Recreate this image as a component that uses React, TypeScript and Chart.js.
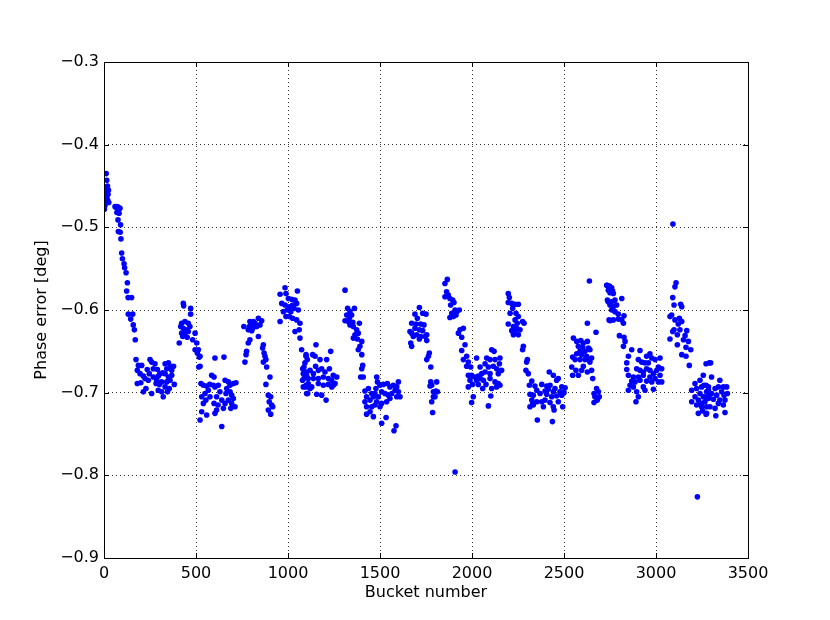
import React, { useEffect, useRef } from "react";
import { Chart, registerables } from "chart.js";

Chart.register(...registerables);

// [bucket number, phase error in deg]
const startRamp: number[][] = [
  [0,-0.472],[2,-0.478],[3,-0.466],[5,-0.474],[6,-0.458],[8,-0.468],[9,-0.46],[11,-0.455],[12,-0.435],[13,-0.47],[15,-0.443],[16,-0.462],[17,-0.458],[19,-0.45],[20,-0.467],[22,-0.46],[24,-0.455],[26,-0.47],
  [60,-0.475],[68,-0.476],[72,-0.475],[80,-0.476],[87,-0.477],[70,-0.482],[82,-0.483],[76,-0.491],[90,-0.497],[78,-0.505],[88,-0.506],[92,-0.514],
  [96,-0.531],[100,-0.538],[109,-0.544],[112,-0.549],[120,-0.555],[127,-0.567],[123,-0.577],[131,-0.585],[150,-0.585],
  [132,-0.605],[156,-0.605],[145,-0.611],[159,-0.618],[165,-0.624],[170,-0.636],
];
const block1: number[][] = [
  [174,-0.66],[187,-0.667],[205,-0.667],[181,-0.673],[196,-0.677],[214,-0.68],[181,-0.689],[223,-0.683],[228,-0.695],[214,-0.699],
  [250,-0.66],[259,-0.663],[277,-0.665],[268,-0.671],[246,-0.677],[241,-0.685],[268,-0.681],[286,-0.685],[295,-0.68],[304,-0.677],
  [319,-0.676],[313,-0.687],[283,-0.689],[259,-0.701],[295,-0.697],[313,-0.699],[322,-0.705],[301,-0.69],[332,-0.665],[350,-0.664],
  [362,-0.668],[341,-0.671],[332,-0.677],[350,-0.681],[368,-0.679],[341,-0.687],[332,-0.693],[355,-0.695],[359,-0.685],[368,-0.673],
  [378,-0.668],[382,-0.69],[200,-0.688],[235,-0.672],[290,-0.672],[345,-0.699],
];
const rise2: number[][] = [
  [431,-0.592],[433,-0.595],[471,-0.598],[471,-0.605],[422,-0.616],[440,-0.614],[458,-0.616],[417,-0.62],[431,-0.622],[449,-0.624],
  [440,-0.628],[458,-0.626],[467,-0.62],[422,-0.628],[409,-0.64],[495,-0.628],[482,-0.636],[504,-0.64],[495,-0.648],[513,-0.648],
  [507,-0.652],[518,-0.657],[515,-0.669],[428,-0.632],[452,-0.633],
];
const block2: number[][] = [
  [522,-0.656],[522,-0.668],[527,-0.689],[540,-0.691],[558,-0.692],[567,-0.697],[549,-0.701],[531,-0.705],[576,-0.705],[554,-0.709],
  [594,-0.691],[603,-0.693],[585,-0.679],[598,-0.681],[603,-0.658],[652,-0.657],[621,-0.691],[630,-0.699],[612,-0.705],[640,-0.709],
  [658,-0.713],[598,-0.713],[531,-0.723],[558,-0.727],[603,-0.725],[612,-0.721],[649,-0.719],[640,-0.741],[658,-0.685],[676,-0.687],
  [685,-0.691],[703,-0.689],[717,-0.688],[667,-0.695],[685,-0.699],[694,-0.703],[703,-0.707],[676,-0.709],[694,-0.713],[712,-0.717],
  [689,-0.719],[663,-0.701],[540,-0.713],[522,-0.733],[575,-0.69],[620,-0.715],
];
const rise3: number[][] = [
  [793,-0.614],[812,-0.614],[803,-0.618],[821,-0.616],[790,-0.62],[808,-0.622],[830,-0.62],[784,-0.624],[803,-0.625],[839,-0.61],
  [857,-0.613],[848,-0.618],[839,-0.632],[793,-0.636],[784,-0.64],[775,-0.65],[772,-0.654],[766,-0.663],[866,-0.642],[862,-0.646],
  [870,-0.652],[875,-0.656],[866,-0.663],[880,-0.66],[884,-0.669],[902,-0.681],[880,-0.69],[893,-0.703],[906,-0.705],[898,-0.711],
  [911,-0.715],[893,-0.721],[906,-0.726],[917,-0.717],[760,-0.62],
];
const rise4: number[][] = [
  [984,-0.573],[957,-0.581],[989,-0.58],[1051,-0.577],[1002,-0.586],[1020,-0.587],[1038,-0.588],[966,-0.592],[984,-0.594],[1007,-0.596],
  [1025,-0.594],[1047,-0.592],[975,-0.602],[996,-0.6],[1015,-0.602],[1033,-0.598],[1056,-0.6],[1007,-0.608],[1025,-0.61],[1047,-0.612],
  [957,-0.614],[989,-0.608],[1065,-0.616],[1038,-0.626],[1061,-0.624],[1065,-0.634],[1074,-0.648],[1098,-0.654],[1105,-0.66],[1087,-0.669],
  [1083,-0.677],[1101,-0.679],[1079,-0.685],[1110,-0.689],[1098,-0.693],[1107,-0.701],
];
const block4: number[][] = [
  [1098,-0.656],[1092,-0.664],[1134,-0.654],[1147,-0.656],[1152,-0.642],[1174,-0.66],[1210,-0.66],[1232,-0.65],[1080,-0.671],[1101,-0.675],
  [1120,-0.673],[1138,-0.677],[1165,-0.673],[1183,-0.671],[1201,-0.675],[1225,-0.671],[1246,-0.679],[1265,-0.681],[1238,-0.685],[1219,-0.683],
  [1192,-0.681],[1165,-0.683],[1138,-0.683],[1110,-0.683],[1087,-0.683],[1098,-0.691],[1129,-0.693],[1120,-0.695],[1165,-0.689],[1192,-0.691],
  [1219,-0.69],[1246,-0.691],[1256,-0.689],[1238,-0.693],[1156,-0.702],[1183,-0.703],[1207,-0.709],[1101,-0.701],[1083,-0.693],[1150,-0.668],
];
const rise5: number[][] = [
  [1310,-0.576],[1324,-0.598],[1361,-0.598],[1337,-0.602],[1319,-0.606],[1346,-0.606],[1333,-0.61],[1310,-0.613],[1328,-0.614],[1352,-0.615],
  [1337,-0.618],[1355,-0.62],[1388,-0.616],[1373,-0.624],[1382,-0.628],[1364,-0.63],[1355,-0.634],[1377,-0.635],[1401,-0.638],[1391,-0.644],
  [1382,-0.648],[1401,-0.654],[1406,-0.667],[1401,-0.671],[1395,-0.681],[1409,-0.681],
];
const block5: number[][] = [
  [1482,-0.681],[1486,-0.687],[1500,-0.691],[1478,-0.695],[1418,-0.698],[1437,-0.695],[1455,-0.701],[1473,-0.701],[1518,-0.69],[1540,-0.689],
  [1554,-0.693],[1572,-0.691],[1600,-0.687],[1591,-0.693],[1582,-0.697],[1600,-0.699],[1509,-0.699],[1527,-0.701],[1545,-0.703],[1564,-0.701],
  [1554,-0.707],[1591,-0.705],[1609,-0.705],[1427,-0.705],[1446,-0.709],[1464,-0.705],[1491,-0.705],[1482,-0.711],[1509,-0.713],[1536,-0.711],
  [1427,-0.717],[1455,-0.717],[1473,-0.715],[1500,-0.717],[1446,-0.723],[1427,-0.726],[1464,-0.729],[1533,-0.73],[1509,-0.737],[1587,-0.74],
  [1576,-0.746],[1418,-0.711],
];
const rise6: number[][] = [
  [1714,-0.597],[1690,-0.605],[1732,-0.604],[1750,-0.605],[1703,-0.61],[1672,-0.616],[1696,-0.617],[1721,-0.617],[1739,-0.618],[1690,-0.622],
  [1714,-0.624],[1732,-0.625],[1672,-0.628],[1699,-0.63],[1681,-0.632],[1721,-0.632],[1745,-0.632],[1754,-0.63],[1667,-0.64],[1672,-0.644],
  [1714,-0.635],[1754,-0.637],[1768,-0.652],[1763,-0.656],[1754,-0.66],[1776,-0.669],[1663,-0.626],
  [1776,-0.687],[1781,-0.691],[1772,-0.692],[1808,-0.687],[1790,-0.699],[1804,-0.698],[1799,-0.705],[1781,-0.711],[1786,-0.724],[1812,-0.699],[1790,-0.705],
];
const rise7: number[][] = [
  [1866,-0.563],[1853,-0.568],[1862,-0.578],[1853,-0.584],[1871,-0.582],[1880,-0.586],[1895,-0.588],[1902,-0.591],[1884,-0.594],[1908,-0.6],
  [1890,-0.604],[1917,-0.602],[1931,-0.6],[1899,-0.608],[1880,-0.609],[1913,-0.606],[1935,-0.624],[1953,-0.622],[1926,-0.628],[1944,-0.633],
  [1962,-0.642],[1944,-0.649],[1971,-0.656],[1953,-0.66],[1980,-0.663],[1993,-0.669],[1971,-0.668],[1908,-0.796],
];
const block7: number[][] = [
  [2025,-0.658],[2107,-0.648],[2120,-0.65],[2080,-0.658],[2098,-0.66],[2125,-0.66],[2152,-0.658],[2149,-0.665],[2071,-0.665],[2044,-0.669],
  [2089,-0.669],[2116,-0.668],[2134,-0.671],[2053,-0.677],[2071,-0.675],[2098,-0.677],[1980,-0.679],[1998,-0.679],[2016,-0.681],[2034,-0.68],
  [1989,-0.685],[2025,-0.685],[2044,-0.683],[2062,-0.685],[2098,-0.683],[2125,-0.687],[2143,-0.689],[2152,-0.691],[2134,-0.693],[2107,-0.695],
  [2076,-0.69],[2034,-0.69],[2058,-0.695],[2003,-0.69],[1980,-0.693],[2007,-0.705],[1998,-0.712],[2102,-0.704],[2089,-0.716],[2143,-0.677],
  [2161,-0.673],
];
const rise8: number[][] = [
  [2197,-0.58],[2203,-0.585],[2197,-0.591],[2216,-0.592],[2234,-0.593],[2252,-0.593],[2221,-0.598],[2207,-0.604],[2239,-0.604],[2252,-0.608],
  [2197,-0.617],[2234,-0.612],[2246,-0.616],[2275,-0.614],[2283,-0.616],[2225,-0.62],[2243,-0.622],[2261,-0.624],[2216,-0.625],[2234,-0.627],
  [2225,-0.63],[2252,-0.63],[2279,-0.644],[2275,-0.648],[2301,-0.66],[2297,-0.663],[2293,-0.673],[2306,-0.677],
];
const block8: number[][] = [
  [2420,-0.675],[2442,-0.679],[2469,-0.683],[2460,-0.685],[2325,-0.686],[2312,-0.691],[2342,-0.692],[2379,-0.69],[2406,-0.692],[2424,-0.691],
  [2451,-0.695],[2488,-0.693],[2506,-0.694],[2352,-0.697],[2397,-0.698],[2415,-0.696],[2442,-0.699],[2478,-0.699],[2500,-0.7],[2315,-0.702],
  [2333,-0.703],[2370,-0.701],[2406,-0.702],[2433,-0.705],[2460,-0.704],[2488,-0.703],[2325,-0.709],[2352,-0.711],[2379,-0.711],[2397,-0.709],
  [2424,-0.712],[2469,-0.711],[2333,-0.715],[2315,-0.717],[2388,-0.717],[2442,-0.717],[2493,-0.717],[2330,-0.713],[2446,-0.721],[2355,-0.733],
  [2437,-0.735],
];
const rise9: number[][] = [
  [2638,-0.565],[2627,-0.616],[2674,-0.627],[2551,-0.634],[2569,-0.638],[2591,-0.637],[2605,-0.64],[2627,-0.638],[2578,-0.644],[2602,-0.645],
  [2633,-0.646],[2587,-0.65],[2614,-0.65],[2641,-0.648],[2569,-0.653],[2596,-0.654],[2623,-0.656],[2650,-0.658],[2547,-0.657],[2560,-0.66],
  [2587,-0.66],[2614,-0.66],[2632,-0.66],[2641,-0.663],[2605,-0.668],[2542,-0.669],[2565,-0.673],[2596,-0.673],[2627,-0.675],[2650,-0.673],
  [2578,-0.679],[2547,-0.679],[2656,-0.683],[2677,-0.695],[2663,-0.701],[2687,-0.699],[2668,-0.705],[2681,-0.709],[2663,-0.712],[2692,-0.705],
];
const rise10: number[][] = [
  [2734,-0.57],[2740,-0.59],[2745,-0.612],[2732,-0.57],[2747,-0.571],[2759,-0.573],[2741,-0.576],[2764,-0.577],[2750,-0.579],[2768,-0.58],
  [2736,-0.588],[2759,-0.59],[2777,-0.588],[2814,-0.586],[2750,-0.594],[2768,-0.596],[2786,-0.594],[2759,-0.6],[2777,-0.602],[2795,-0.605],
  [2768,-0.612],[2750,-0.613],[2795,-0.611],[2814,-0.612],[2823,-0.616],[2826,-0.607],[2801,-0.631],[2826,-0.633],[2832,-0.638],[2823,-0.644],
  [2868,-0.648],
];
const block10: number[][] = [
  [2913,-0.649],[2850,-0.656],[2949,-0.656],[2967,-0.653],[2977,-0.658],[3022,-0.658],[2995,-0.66],[2841,-0.664],[2904,-0.66],[2922,-0.663],
  [2940,-0.664],[2958,-0.664],[3013,-0.669],[3031,-0.671],[3004,-0.673],[2895,-0.671],[2913,-0.673],[2931,-0.675],[2949,-0.671],[2967,-0.673],
  [2841,-0.672],[2986,-0.677],[2850,-0.679],[2877,-0.681],[2904,-0.681],[2931,-0.679],[2967,-0.681],[2995,-0.683],[3022,-0.679],[2868,-0.686],
  [2886,-0.687],[2913,-0.685],[2949,-0.686],[2977,-0.687],[3013,-0.687],[3031,-0.687],[2859,-0.691],[2877,-0.693],[2931,-0.693],[2895,-0.699],
  [2850,-0.697],[2940,-0.697],[2986,-0.696],[2904,-0.705],[2891,-0.711],
];
const rise11: number[][] = [
  [3092,-0.496],[3109,-0.567],[3103,-0.572],[3091,-0.585],[3098,-0.594],[3134,-0.593],[3140,-0.596],[3085,-0.606],[3076,-0.608],[3103,-0.612],
  [3127,-0.61],[3140,-0.614],[3121,-0.617],[3098,-0.624],[3091,-0.626],[3130,-0.624],[3116,-0.63],[3167,-0.625],[3158,-0.631],[3149,-0.636],
  [3176,-0.638],[3163,-0.645],[3189,-0.648],[3140,-0.654],[3163,-0.656],[3181,-0.667],[3076,-0.635],[3116,-0.642],
];
const block11: number[][] = [
  [3272,-0.665],[3290,-0.664],[3257,-0.679],[3239,-0.685],[3212,-0.689],[3194,-0.697],[3221,-0.695],[3248,-0.693],[3272,-0.691],[3285,-0.697],
  [3239,-0.701],[3212,-0.705],[3230,-0.709],[3266,-0.705],[3290,-0.703],[3194,-0.711],[3221,-0.715],[3248,-0.713],[3275,-0.717],[3230,-0.725],
  [3272,-0.726],[3297,-0.664],[3302,-0.681],[3347,-0.685],[3261,-0.691],[3285,-0.693],[3321,-0.695],[3339,-0.693],[3366,-0.693],[3384,-0.693],
  [3357,-0.699],[3275,-0.699],[3302,-0.701],[3330,-0.703],[3370,-0.703],[3388,-0.701],[3257,-0.705],[3285,-0.707],[3312,-0.708],[3347,-0.709],
  [3375,-0.709],[3266,-0.711],[3339,-0.713],[3366,-0.715],[3248,-0.717],[3293,-0.717],[3321,-0.719],[3253,-0.722],[3275,-0.725],[3375,-0.724],
  [3325,-0.728],[3225,-0.826],
];

const segments = [startRamp, block1, rise2, block2, rise3, rise4, block4, rise5, block5, rise6, rise7, block7, rise8, block8, rise9, rise10, block10, rise11, block11];

const xTicks = [0, 500, 1000, 1500, 2000, 2500, 3000, 3500];
const yTicks = [-0.9, -0.8, -0.7, -0.6, -0.5, -0.4, -0.3];

const FONT = "'DejaVu Sans', sans-serif";

const framePlugin = {
  id: "frameTicks",
  afterDraw(chart: any) {
    const { ctx, chartArea: a, scales } = chart;
    ctx.save();
    ctx.strokeStyle = "#000";
    ctx.lineWidth = 1;
    ctx.setLineDash([]);
    const L = 5;
    ctx.beginPath();
    for (const v of xTicks) {
      const x = Math.round(scales.x.getPixelForValue(v)) + 0.5;
      ctx.moveTo(x, a.bottom); ctx.lineTo(x, a.bottom - L);
      ctx.moveTo(x, a.top); ctx.lineTo(x, a.top + L);
    }
    for (const v of yTicks) {
      const y = Math.round(scales.y.getPixelForValue(v)) + 0.5;
      ctx.moveTo(a.left, y); ctx.lineTo(a.left + L, y);
      ctx.moveTo(a.right, y); ctx.lineTo(a.right - L, y);
    }
    ctx.stroke();
    ctx.strokeRect(Math.round(a.left) + 0.5, Math.round(a.top) + 0.5, Math.round(a.right - a.left), Math.round(a.bottom - a.top));
    ctx.restore();
  },
};

export default function App() {
  const ref = useRef<HTMLCanvasElement | null>(null);
  useEffect(() => {
    if (!ref.current) return;
    const data = segments.flat().map((p) => ({ x: p[0], y: p[1] }));
    const chart = new Chart(ref.current, {
      type: "scatter",
      data: {
        datasets: [
          {
            data,
            backgroundColor: "#0000ff",
            borderColor: "#0000ff",
            borderWidth: 0,
            pointRadius: 2.8,
            pointHoverRadius: 2.8,
          },
        ],
      },
      options: {
        animation: false,
        responsive: false,
        maintainAspectRatio: false,
        layout: { padding: { left: 0, right: 82, top: 62, bottom: 0 } },
        plugins: { legend: { display: false }, tooltip: { enabled: false } },
        scales: {
          x: {
            type: "linear",
            min: 0,
            max: 3500,
            afterBuildTicks: (s: any) => { s.ticks = xTicks.map((v) => ({ value: v })); },
            afterFit: (s: any) => { s.height = 62; },
            ticks: { color: "#000", font: { family: FONT, size: 16 }, padding: 6, maxRotation: 0, callback: (v: any) => String(v) },
            grid: { color: "#000", lineWidth: 0.8, drawTicks: false },
            border: { display: false, dash: [1, 3] },
            title: { display: true, text: "Bucket number", color: "#000", font: { family: FONT, size: 16 }, padding: { top: 0, bottom: 18 } },
          },
          y: {
            type: "linear",
            min: -0.9,
            max: -0.3,
            afterBuildTicks: (s: any) => { s.ticks = yTicks.map((v) => ({ value: v })); },
            afterFit: (s: any) => { s.width = 104; },
            ticks: { color: "#000", font: { family: FONT, size: 16 }, padding: 5, callback: (v: any) => Number(v).toFixed(1).replace("-", "\u2212") },
            grid: { color: "#000", lineWidth: 0.8, drawTicks: false },
            border: { display: false, dash: [1, 3] },
            title: { display: true, text: "Phase error [deg]", color: "#000", font: { family: FONT, size: 16 }, padding: { top: 32, bottom: 0 } },
          },
        },
      },
      plugins: [framePlugin],
    });
    return () => chart.destroy();
  }, []);
  return (
    <div style={{ position: "fixed", left: 0, top: 0, width: 830, height: 620, background: "#fff" }}>
      <canvas ref={ref} width={830} height={620} style={{ display: "block" }} />
    </div>
  );
}
